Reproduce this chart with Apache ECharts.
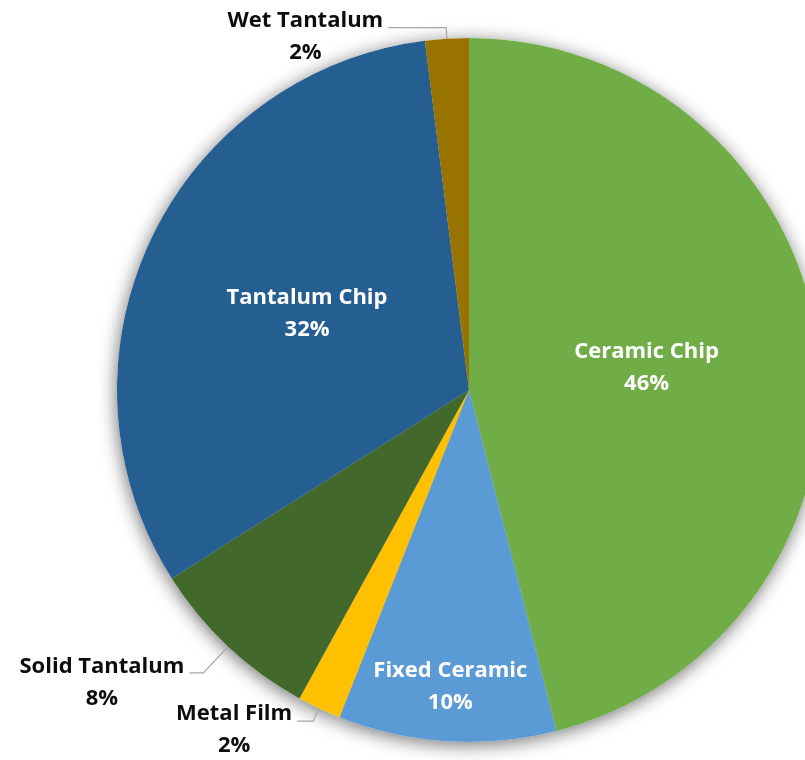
<!DOCTYPE html>
<html>
<head>
<meta charset="utf-8">
<script src="https://cdn.jsdelivr.net/npm/echarts@6/dist/echarts.min.js"></script>
<style>
  html, body { margin: 0; padding: 0; background: #ffffff; }
  #chart { width: 805px; height: 760px; }
</style>
</head>
<body>
<div id="chart"></div>
<script>
// Capacitor types, share of total (%), clockwise from 12 o'clock
const categories = ['Ceramic Chip', 'Fixed Ceramic', 'Metal Film', 'Solid Tantalum', 'Tantalum Chip', 'Wet Tantalum'];
const shares = [46, 10, 2, 8, 32, 2];
const sliceColors = ['#70AD47', '#5B9BD5', '#FFC000', '#43682B', '#255E91', '#997300'];

// How each slice is labelled: inside the wedge, near the rim, or outside with a leader line
const labelModes = ['inside', 'rim', 'outside', 'outside', 'inside', 'outside'];
const leaderLengths = [0, 0, 14, 36, 0, 11];
const leaderTails = [0, 0, 16, 14, 0, 58];
const labelShifts = [0, 0, 18, 20, 0, 18];

const FONT = '"Open Sans", Lato, sans-serif';
const FONT_SIZE = 22;
const LINE_H = 32;
const CENTER = [469, 390];
const RADIUS = 352;

const chart = echarts.init(document.getElementById('chart'), null, { renderer: 'canvas' });

const mainData = categories.map((name, i) => {
  const item = {
    name: name,
    value: shares[i],
    itemStyle: { color: sliceColors[i] }
  };
  if (labelModes[i] === 'outside') {
    item.label = {
      show: true,
      position: 'outside',
      color: '#0D0D0D',
      padding: [labelShifts[i], 0, 0, 0],
      formatter: '{t|{b}}\n{t|{d}%}',
      rich: {
        t: { fontFamily: FONT, fontWeight: 'bold', fontSize: FONT_SIZE, lineHeight: LINE_H, color: '#0D0D0D', align: 'center' }
      }
    };
    item.labelLine = {
      show: true,
      length: leaderLengths[i],
      length2: leaderTails[i],
      lineStyle: { color: '#A6A6A6', width: 1.2 }
    };
  } else if (labelModes[i] === 'inside') {
    item.label = { show: true, position: 'inside' };
    item.labelLine = { show: false };
  } else {
    item.label = { show: false };
    item.labelLine = { show: false };
  }
  return item;
});

// Rim labels sit on a transparent ring so they land near the outer edge of their wedge
const rimData = categories.map((name, i) => ({
  name: name,
  value: shares[i],
  itemStyle: { color: 'rgba(0,0,0,0)' },
  label: { show: labelModes[i] === 'rim' }
}));

const option = {
  backgroundColor: '#ffffff',
  animation: false,
  series: [
    {
      // soft drop shadow under the whole pie
      type: 'pie',
      z: 1,
      silent: true,
      center: CENTER,
      radius: [0, RADIUS],
      startAngle: 90,
      clockwise: true,
      label: { show: false },
      labelLine: { show: false },
      itemStyle: {
        color: '#ffffff',
        shadowBlur: 18,
        shadowColor: 'rgba(0,0,0,0.55)',
        shadowOffsetX: -1,
        shadowOffsetY: 3
      },
      data: categories.map((name, i) => ({ name: name, value: shares[i] }))
    },
    {
      type: 'pie',
      z: 2,
      silent: true,
      center: CENTER,
      radius: [0, RADIUS],
      startAngle: 90,
      clockwise: true,
      avoidLabelOverlap: false,
      labelLayout: { hideOverlap: false },
      itemStyle: { borderWidth: 0 },
      label: {
        fontFamily: FONT,
        fontWeight: 'bold',
        fontSize: FONT_SIZE,
        lineHeight: LINE_H,
        color: '#ffffff',
        formatter: '{b}\n{d}%'
      },
      data: mainData
    },
    {
      type: 'pie',
      z: 3,
      silent: true,
      center: CENTER,
      radius: [236, RADIUS],
      startAngle: 90,
      clockwise: true,
      avoidLabelOverlap: false,
      labelLine: { show: false },
      label: {
        position: 'inside',
        fontFamily: FONT,
        fontWeight: 'bold',
        fontSize: FONT_SIZE,
        lineHeight: LINE_H,
        color: '#ffffff',
        formatter: '{b}\n{d}%'
      },
      data: rimData
    }
  ]
};

chart.setOption(option);
</script>
</body>
</html>
